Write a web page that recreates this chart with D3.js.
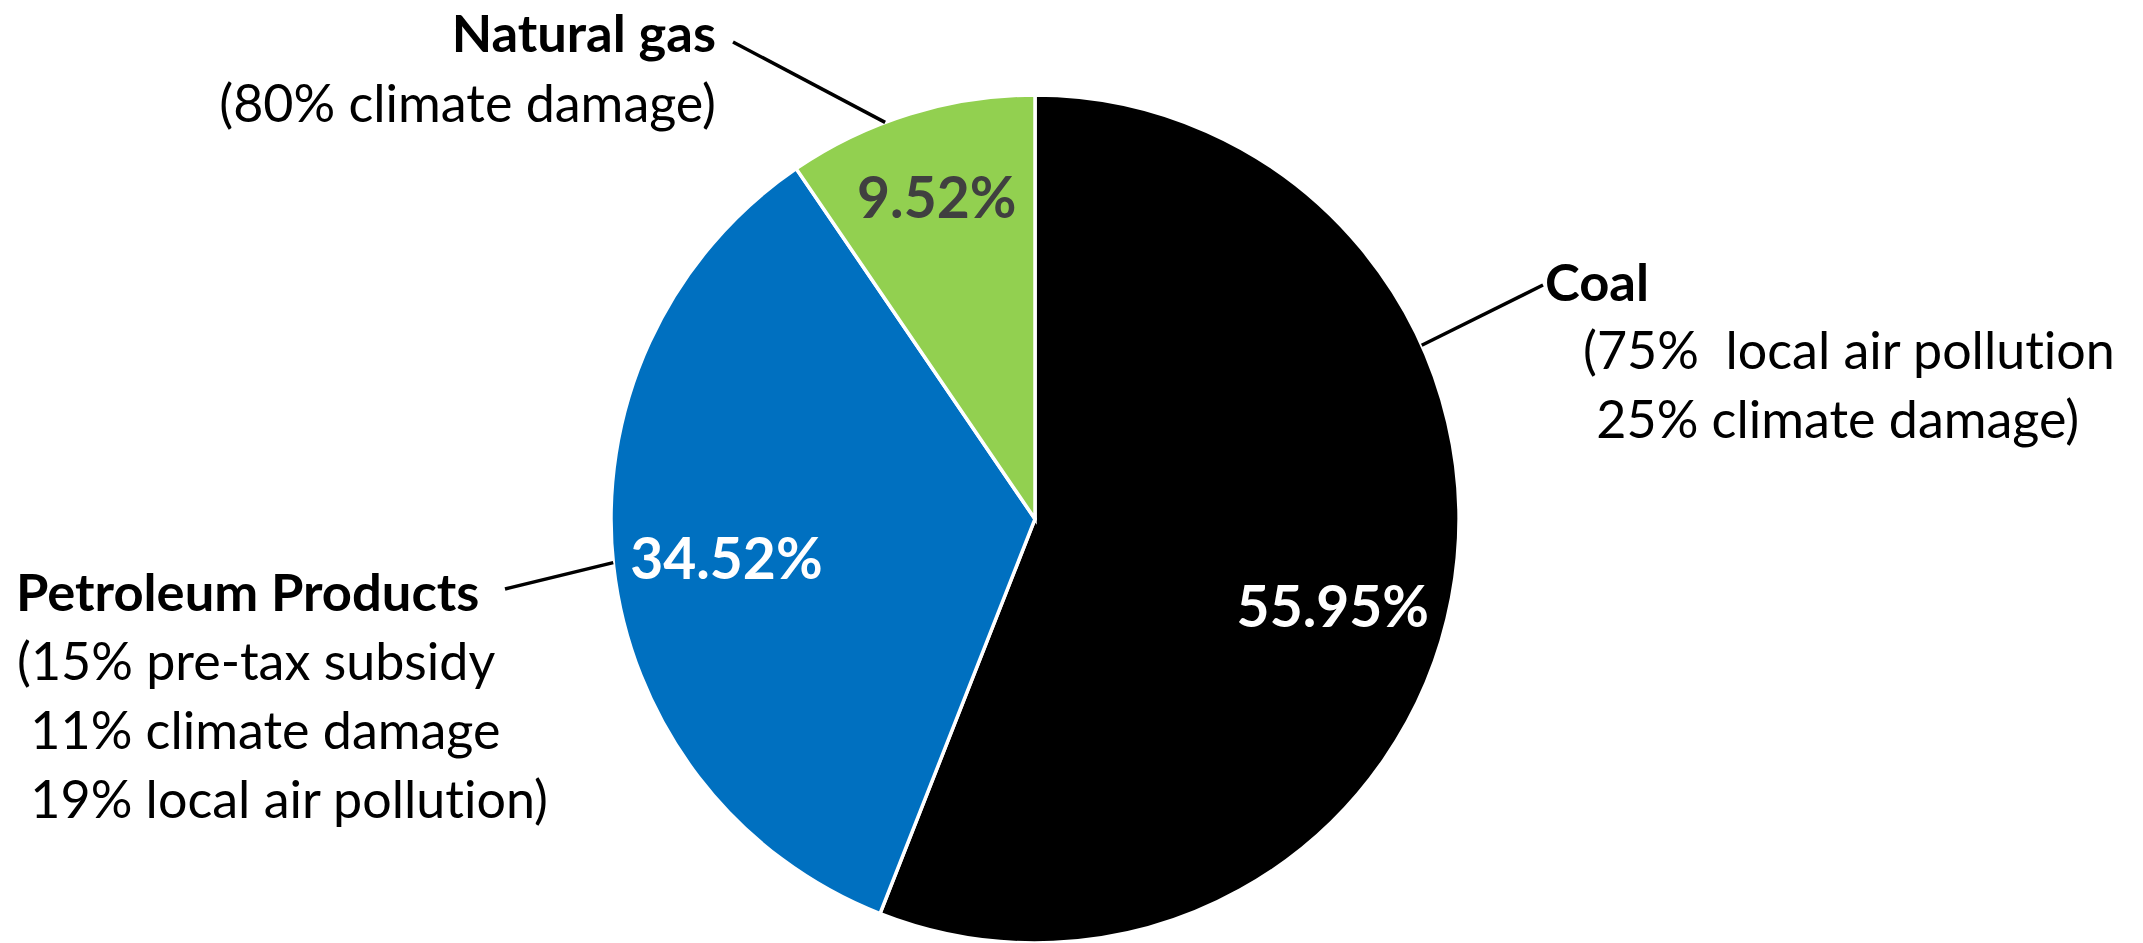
<!DOCTYPE html>
<html>
<head>
<meta charset="utf-8">
<script src="https://cdn.jsdelivr.net/npm/d3@7"></script>
<style>
  html, body { margin: 0; padding: 0; background: #ffffff; }
  svg { display: block; }
  text { font-variant-ligatures: none; }
</style>
</head>
<body>
<div id="chart"></div>
<script>
// ---- data ----
const categories = ["Coal", "Petroleum Products", "Natural gas"];
const shares = [55.95, 34.52, 9.52];
const valueLabels = ["55.95%", "34.52%", "9.52%"];
const noteLines = [
  ["(75%  local air pollution", " 25% climate damage)"],
  ["(15% pre-tax subsidy", " 11% climate damage", " 19% local air pollution)"],
  ["(80% climate damage)"]
];

// ---- layout / style ----
const W = 2143, H = 943;
const cx = 1035, cy = 519, R = 424;
const colors = ["#000000", "#0070C0", "#92D050"];
const valueColors = ["#ffffff", "#ffffff", "#404040"];
const FONT = "Lato, 'Open Sans', 'Liberation Sans', sans-serif";
const valueFontSize = 57, titleFontSize = 52.5, noteFontSize = 52, lineGap = 69;
// value label polar placement (deg clockwise from top, radius px)
const valuePolar = [[106.1, 310], [262.9, 311], [343.1, 338]];
// category annotation blocks: title anchor, line x positions, leader angle on rim
const blocks = [
  { anchor: "start", titleX: 1545, titleY: 301, lineX: [1583, 1583], firstLineY: 369,
    leaderFrom: [1543, 285], leaderAngle: 65.8 },
  { anchor: "start", titleX: 16, titleY: 611, lineX: [17, 17, 17], firstLineY: 680,
    leaderFrom: [505, 589], leaderAngle: 264.1 },
  { anchor: "end", titleX: 716, titleY: 52, lineX: [716], firstLineY: 122,
    leaderFrom: [733, 42], leaderAngle: 339.3 }
];

const svg = d3.select("#chart").append("svg")
  .attr("width", W).attr("height", H)
  .attr("viewBox", `0 0 ${W} ${H}`);

const g = svg.append("g").attr("transform", `translate(${cx},${cy})`);

const pie = d3.pie().sort(null).value(d => d).startAngle(0).endAngle(2 * Math.PI);
const arcs = pie(shares);
const arc = d3.arc().innerRadius(0).outerRadius(R);

g.selectAll("path.slice").data(arcs).join("path")
  .attr("class", "slice")
  .attr("d", arc)
  .attr("fill", (d, i) => colors[i])
  .attr("stroke", "#ffffff")
  .attr("stroke-width", 3.5)
  .attr("stroke-linejoin", "miter");

const polar = (deg, r) => {
  const a = deg * Math.PI / 180;
  return [r * Math.sin(a), -r * Math.cos(a)];
};

// value labels
g.selectAll("text.val").data(arcs).join("text")
  .attr("class", "val")
  .attr("x", (d, i) => polar(valuePolar[i][0], valuePolar[i][1])[0])
  .attr("y", (d, i) => polar(valuePolar[i][0], valuePolar[i][1])[1])
  .attr("text-anchor", "middle")
  .attr("dominant-baseline", "central")
  .attr("font-family", FONT)
  .attr("font-weight", "bold")
  .attr("font-size", valueFontSize)
  .attr("fill", (d, i) => valueColors[i])
  .text((d, i) => valueLabels[i]);

// leader lines
blocks.forEach((b, i) => {
  const p = polar(b.leaderAngle, R);
  svg.append("line")
    .attr("x1", b.leaderFrom[0]).attr("y1", b.leaderFrom[1])
    .attr("x2", cx + p[0]).attr("y2", cy + p[1])
    .attr("stroke", "#000000").attr("stroke-width", 3.5);
});

// annotation text
blocks.forEach((b, i) => {
  svg.append("text")
    .attr("x", b.titleX).attr("y", b.titleY)
    .attr("text-anchor", b.anchor)
    .attr("font-family", FONT)
    .attr("font-weight", "bold")
    .attr("font-size", titleFontSize)
    .attr("fill", "#000000")
    .text(categories[i]);
  noteLines[i].forEach((line, j) => {
    svg.append("text")
      .attr("x", b.lineX[j]).attr("y", b.firstLineY + j * lineGap)
      .attr("text-anchor", b.anchor)
      .attr("font-family", FONT)
      .attr("font-size", noteFontSize)
      .attr("fill", "#000000")
      .style("white-space", "pre")
      .text(line);
  });
});
</script>
</body>
</html>
